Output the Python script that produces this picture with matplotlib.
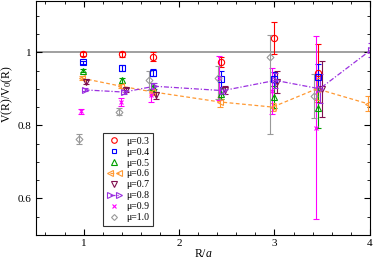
import numpy as np
import matplotlib
matplotlib.use('Agg')
import matplotlib.pyplot as plt
from matplotlib.ticker import MultipleLocator, FuncFormatter
from matplotlib.lines import Line2D
from matplotlib.legend_handler import HandlerLine2D

plt.rcParams['font.family'] = ['Liberation Serif', 'DejaVu Serif']
plt.rcParams['mathtext.fontset'] = 'custom'
plt.rcParams['mathtext.rm'] = 'Liberation Serif'
plt.rcParams['mathtext.it'] = 'Liberation Serif:italic'

# separations R/a
R = [1.0, 1.414, 1.732, 2.449, 3.0, 3.464]
R4 = R + [4.0]

mu_labels = ['\u03bc=0.3', '\u03bc=0.4', '\u03bc=0.5', '\u03bc=0.6',
             '\u03bc=0.7', '\u03bc=0.8', '\u03bc=0.9', '\u03bc=1.0']

v03 = [0.996, 0.994, 0.988, 0.973, 1.039, 0.943]
e03 = [0.005, 0.006, 0.012, 0.014, 0.045, 0.08]
v04 = [0.972, 0.957, 0.944, 0.926, 0.927, 0.932]
e04 = [0.005, 0.007, 0.010, 0.022, 0.020, 0.036]
v05 = [0.950, 0.923, 0.905, 0.886, 0.877, 0.848]
e05 = [0.004, 0.006, 0.010, 0.015, 0.030, 0.054]
v06 = [0.929, 0.907, 0.892, 0.864, 0.850, 0.900, 0.859]
e06 = [0.005, 0.006, 0.008, 0.013, 0.010, 0.030, 0.020]
v07 = [0.918, 0.897, 0.882, 0.897, 0.918, 0.900]
e07 = [0.005, 0.006, 0.010, 0.010, 0.030, 0.077]
v08 = [0.897, 0.891, 0.907, 0.895, 0.923, 0.900, 1.006]
e08 = [0.004, 0.005, 0.008, 0.010, 0.020, 0.040, 0.020]
v09 = [0.838, 0.864, 0.882, 0.930, 0.895, 0.794]
e09 = [0.008, 0.010, 0.017, 0.060, 0.063, 0.250]
v10 = [0.763, 0.837, 0.923, 0.930, 0.986, 0.880]
e10_lo = [0.013, 0.010, 0.025, 0.057, 0.210, 0.060]
e10_hi = [0.013, 0.010, 0.025, 0.032, 0.060, 0.060]

fig = plt.figure(figsize=(3.74, 2.6), dpi=100)
ax = fig.add_axes([0.096, 0.096, 0.893, 0.9])

ax.axhline(1.0, color='#999999', lw=1.3, zorder=1)

handles = []

def series(x, y, err, off, color, marker, label, ls='none', ms=4.5):
    xs = np.array(x) + off
    ax.errorbar(xs, y, yerr=err, color=color, marker=marker, ms=ms,
                mfc='none', mec=color, mew=0.8, ls=ls, lw=0.9,
                elinewidth=0.8, capsize=2.5, capthick=0.8)
    handles.append(Line2D([], [], color=color, marker=marker, ms=ms - 0.5,
                          mfc='none', mec=color, mew=0.8, ls=ls, lw=0.9,
                          label=label))

series(R, v03, e03, -0.01, '#ff0000', 'o', mu_labels[0])
series(R, v04, e04, -0.01, '#0000ff', 's', mu_labels[1], ms=4)
series(R, v05, e05, -0.01, '#00a000', '^', mu_labels[2])
series(R4, v06, e06, -0.02, '#ff9933', '<', mu_labels[3], ls=(0, (3, 2)))
series(R, v07, e07, 0.03, '#80104f', 'v', mu_labels[4])
series(R4, v08, e08, 0.01, '#9b30e0', '>', mu_labels[5], ls=(0, (4, 1.5, 1, 1.5)))
series(R, v09, e09, -0.025, '#ff00ff', 'x', mu_labels[6], ms=3.5)
series(R, v10, [e10_lo, e10_hi], -0.045, '#999999', 'D', mu_labels[7], ms=3.5)

ax.set_xlim(0.5, 4.0)
ax.set_ylim(0.5, 1.14)
ax.xaxis.set_major_locator(MultipleLocator(1))
ax.xaxis.set_minor_locator(MultipleLocator(0.2))
ax.yaxis.set_major_locator(MultipleLocator(0.2))
ax.yaxis.set_minor_locator(MultipleLocator(0.05))
ax.yaxis.set_major_formatter(FuncFormatter(lambda v, p: '%g' % round(v, 2)))
ax.xaxis.set_major_formatter(FuncFormatter(lambda v, p: '%g' % round(v, 2)))
ax.tick_params(which='both', direction='in', top=True, right=True,
               labelsize=8, pad=3)
ax.tick_params(which='major', length=4, width=0.8)
ax.tick_params(which='minor', length=2, width=0.6)
for s in ax.spines.values():
    s.set_linewidth(0.8)

ax.set_xlabel(r'R/$\mathit{a}$', fontsize=8.5)
ax.xaxis.set_label_coords(0.5, -0.055)
ax.set_ylabel(r'V(R)/V$_0$(R)', fontsize=8.5)
ax.yaxis.set_label_coords(-0.062, 0.6)

hmap = {}
for h in handles:
    if h.get_linestyle() in ('None', 'none', ''):
        hmap[h] = HandlerLine2D(numpoints=1)
    else:
        hmap[h] = HandlerLine2D(numpoints=2)
leg = ax.legend(handles=handles, handler_map=hmap, loc='lower left',
                bbox_to_anchor=(0.2, 0.038), fontsize=7,
                frameon=True, fancybox=False, edgecolor='black',
                handlelength=1.6, handletextpad=0.4, labelspacing=0.2,
                borderpad=0.4, borderaxespad=0)
leg.get_frame().set_linewidth(0.8)

plt.savefig('out.png', dpi=100)
